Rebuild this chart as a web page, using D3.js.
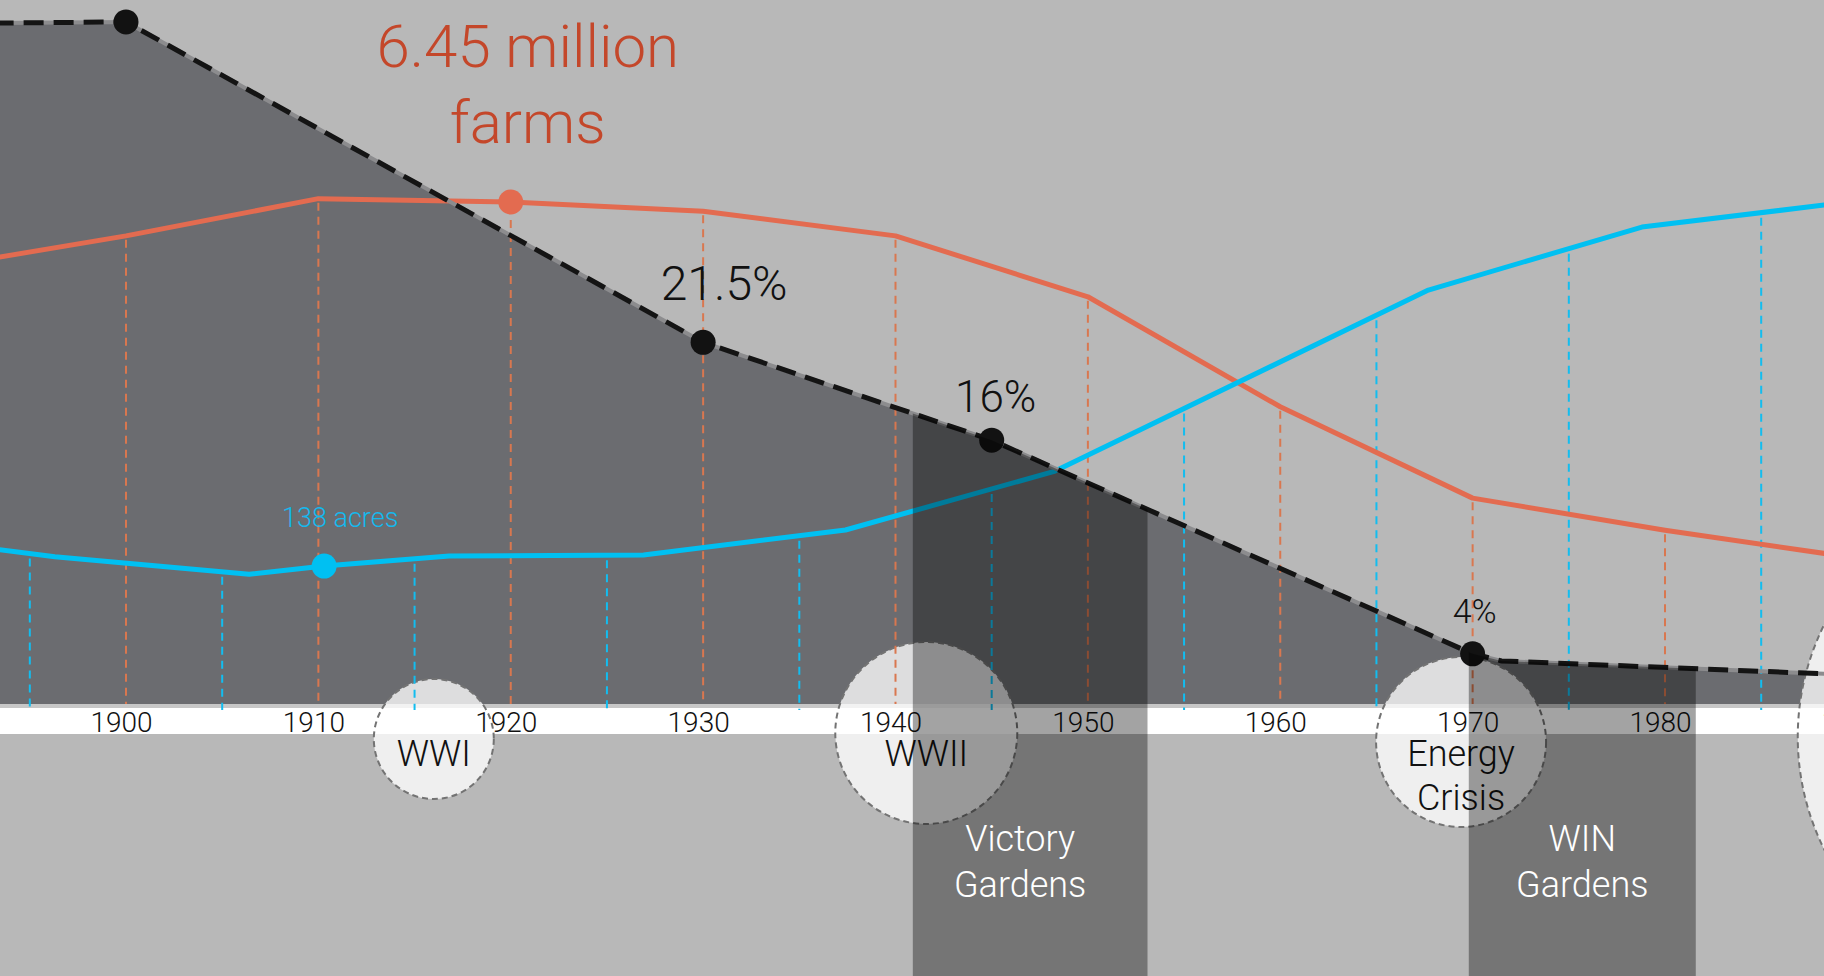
<!DOCTYPE html>
<html>
<head>
<meta charset="utf-8">
<script src="https://cdn.jsdelivr.net/npm/d3@7"></script>
<style>
  html, body { margin: 0; padding: 0; background: #b8b8b8; overflow: hidden; }
  svg { display: block; }
  text { font-family: "Roboto", "Liberation Sans", sans-serif; font-weight: 300; }
</style>
</head>
<body>
<svg id="chart" width="1824" height="976"></svg>
<script>
// ---------------- DATA ----------------
// Share of population living on farms (%)
const farmPopYears = [1890, 1900, 1930, 1945, 1970, 1971.5, 1990];
const farmPopPct   = [39.4, 39.5, 21.5, 16, 4, 3.6, 2.8];
const farmPopLabeled = [1900, 1930, 1945, 1970];
const farmPopLabels  = ["", "21.5%", "16%", "4%"];

// Number of farms (millions)
const farmsYears    = [1890, 1900, 1910, 1920, 1930, 1940, 1950, 1960, 1970, 1980, 1990];
const farmsMillions = [5.67, 6.05, 6.49, 6.45, 6.34, 6.05, 5.33, 4.03, 2.95, 2.57, 2.24];
const farmsLabelYear = 1920;
const farmsLabel = ["6.45 million", "farms"];

// Average farm size (acres)
const sizeYears = [1890, 1896.3, 1906.4, 1910.3, 1916.8, 1926.9, 1937.4, 1948.3, 1967.7, 1978.8, 1990];
const sizeAcres = [159, 146, 131, 138, 146.5, 147.4, 168.8, 219.2, 373.9, 427.7, 450];
const sizeLabelYear = 1910.3;
const sizeLabel = "138 acres";

// Axis ticks and guide years
const tickYears = [1900, 1910, 1920, 1930, 1940, 1950, 1960, 1970, 1980, 1990];
const farmsGuideYears = [1900, 1910, 1920, 1930, 1940, 1950, 1960, 1970, 1980];
const sizeGuideYears  = [1895, 1905, 1915, 1925, 1935, 1945, 1955, 1965, 1975, 1985];

// Events (circles) and garden movements (bands)
const eventNames = [["WWI"], ["WWII"], ["Energy", "Crisis"], [""]];
const eventYears = [1916, 1941.6, 1969.4, 2000];
const gardenNames = [["Victory", "Gardens"], ["WIN", "Gardens"]];
const gardenStart = [1940.9, 1969.8];
const gardenEnd   = [1953.1, 1981.6];

// ---------------- LAYOUT ----------------
const W = 1824, H = 976;
const areaBottom = 704, bandTop = 708, bandBottom = 734;
const eventRadius = [60, 91, 85, 252];
const eventCy = [739, 733, 742, 737];
const gardenLabelDx = [-10, 0];

const svg = d3.select("#chart");

const x = d3.scaleLinear().domain([1900, 1980]).range([126, 1665]);
const yPct = d3.scaleLinear().domain([0, 40]).range([725, 13]);
const yFarms = d3.scaleLinear().domain([0, 7]).range([747.7, 155.5]);
const yAcres = d3.scaleLinear().domain([0, 500]).range([727.5, 142.5]);

const popData = farmPopYears.map((yr, i) => ({year: yr, v: farmPopPct[i]}));
const farmsData = farmsYears.map((yr, i) => ({year: yr, v: farmsMillions[i]}));
const sizeData = sizeYears.map((yr, i) => ({year: yr, v: sizeAcres[i]}));

const interp = (data, yr) => {
  for (let i = 0; i < data.length - 1; i++) {
    const a = data[i], b = data[i + 1];
    if (yr >= a.year && yr <= b.year) {
      const t = (yr - a.year) / (b.year - a.year);
      return a.v + t * (b.v - a.v);
    }
  }
  return data[data.length - 1].v;
};

// background
svg.append("rect").attr("width", W).attr("height", H).attr("fill", "#b8b8b8");

// light strip + white axis band
svg.append("rect").attr("x", 0).attr("y", areaBottom).attr("width", W).attr("height", bandTop - areaBottom).attr("fill", "#c7c7c7");
svg.append("rect").attr("x", 0).attr("y", bandTop).attr("width", W).attr("height", bandBottom - bandTop).attr("fill", "#ffffff");

// dark area under population line
const area = d3.area().x(d => x(d.year)).y0(areaBottom).y1(d => yPct(d.v));
svg.append("path").datum(popData).attr("d", area).attr("fill", "#6b6c70");

// event circles
svg.append("g").selectAll("circle").data(eventYears).join("circle")
  .attr("cx", d => x(d)).attr("cy", (d, i) => eventCy[i]).attr("r", (d, i) => eventRadius[i])
  .attr("fill", "#ffffff").attr("fill-opacity", 0.77)
  .attr("stroke", "#737373").attr("stroke-width", 2).attr("stroke-dasharray", "6,4");

// guide lines
svg.append("g").selectAll("line").data(farmsGuideYears).join("line")
  .attr("x1", d => x(d)).attr("x2", d => x(d))
  .attr("y1", d => yFarms(interp(farmsData, d)) + 4).attr("y2", areaBottom)
  .attr("stroke", "#d9774f").attr("stroke-width", 2).attr("stroke-dasharray", "8,6");

svg.append("g").selectAll("line").data(sizeGuideYears).join("line")
  .attr("x1", d => x(d)).attr("x2", d => x(d))
  .attr("y1", d => yAcres(interp(sizeData, d)) + 5).attr("y2", bandTop + 2)
  .attr("stroke", "#12bdf0").attr("stroke-width", 2).attr("stroke-dasharray", "8,6");

// series lines
const line = (ys) => d3.line().x(d => x(d.year)).y(d => ys(d.v));
svg.append("path").datum(farmsData).attr("d", line(yFarms))
  .attr("fill", "none").attr("stroke", "#e36b50").attr("stroke-width", 5).attr("stroke-linejoin", "round");
svg.append("path").datum(sizeData).attr("d", line(yAcres))
  .attr("fill", "none").attr("stroke", "#00c0f2").attr("stroke-width", 5).attr("stroke-linejoin", "round");
svg.append("path").datum(popData).attr("d", line(yPct))
  .attr("fill", "none").attr("stroke", "#8c8c8e").attr("stroke-width", 4);
svg.append("path").datum(popData).attr("d", line(yPct))
  .attr("fill", "none").attr("stroke", "#141414").attr("stroke-width", 5).attr("stroke-dasharray", "20,10");

// dots
svg.append("g").selectAll("circle").data(farmPopLabeled).join("circle")
  .attr("cx", d => x(d)).attr("cy", d => yPct(interp(popData, d))).attr("r", 12.5).attr("fill", "#121212");
svg.append("circle").attr("cx", x(farmsLabelYear)).attr("cy", yFarms(interp(farmsData, farmsLabelYear)))
  .attr("r", 12.5).attr("fill", "#e36b50");
svg.append("circle").attr("cx", x(sizeLabelYear)).attr("cy", yAcres(interp(sizeData, sizeLabelYear)))
  .attr("r", 12.5).attr("fill", "#00c0f2");

// value labels
const popLabelStyle = [null, {dx: 21, dy: -42, fs: 48}, {dx: 4, dy: -28, fs: 44}, {dx: 2, dy: -31, fs: 34}];
farmPopLabeled.forEach((yr, i) => {
  if (!farmPopLabels[i]) return;
  const s = popLabelStyle[i];
  svg.append("text").attr("x", x(yr) + s.dx).attr("y", yPct(interp(popData, yr)) + s.dy)
    .attr("text-anchor", "middle").attr("font-size", s.fs).attr("fill", "#111").text(farmPopLabels[i]);
});
const fx = x(farmsLabelYear), fy = yFarms(interp(farmsData, farmsLabelYear));
farmsLabel.forEach((t, i) => {
  svg.append("text").attr("x", fx + 17).attr("y", fy - 135 + i * 76)
    .attr("text-anchor", "middle").attr("font-size", 60).attr("fill", "#c4472a").text(t);
});
svg.append("text").attr("x", x(sizeLabelYear) + 16).attr("y", yAcres(interp(sizeData, sizeLabelYear)) - 39)
  .attr("text-anchor", "middle").attr("font-size", 27).attr("fill", "#14b9ee").text(sizeLabel);

// axis tick labels
const axis = d3.axisBottom(x).tickValues(tickYears).tickFormat(d3.format("d")).tickSize(0).tickPadding(0);
const axG = svg.append("g").attr("transform", `translate(0,${bandTop})`).call(axis);
axG.select(".domain").remove();
axG.selectAll("text").attr("font-size", 28).attr("fill", "#111").attr("dx", -5).attr("dy", 0)
  .attr("y", 24).style("font-family", "Roboto, 'Liberation Sans', sans-serif").style("font-weight", 300);

// event labels
eventNames.forEach((lines, i) => {
  lines.forEach((t, j) => {
    svg.append("text").attr("x", x(eventYears[i])).attr("y", 766 + j * 44)
      .attr("text-anchor", "middle").attr("font-size", 36).attr("fill", "#111").text(t);
  });
});

// garden overlays
const overlayArea = d3.area().x(d => x(d.year)).y0(H).y1(d => yPct(d.v));
const defs = svg.append("defs");
gardenStart.forEach((s, i) => {
  defs.append("clipPath").attr("id", "gclip" + i).append("rect")
    .attr("x", x(s)).attr("y", 0).attr("width", x(gardenEnd[i]) - x(s)).attr("height", H);
  svg.append("path").datum(popData).attr("d", overlayArea)
    .attr("clip-path", `url(#gclip${i})`).attr("fill", "#000").attr("fill-opacity", 0.36);
});
gardenNames.forEach((lines, i) => {
  const cx = (x(gardenStart[i]) + x(gardenEnd[i])) / 2 + gardenLabelDx[i];
  lines.forEach((t, j) => {
    svg.append("text").attr("x", cx).attr("y", 851 + j * 46)
      .attr("text-anchor", "middle").attr("font-size", 36).attr("fill", "#ffffff").text(t);
  });
});
</script>
</body>
</html>
